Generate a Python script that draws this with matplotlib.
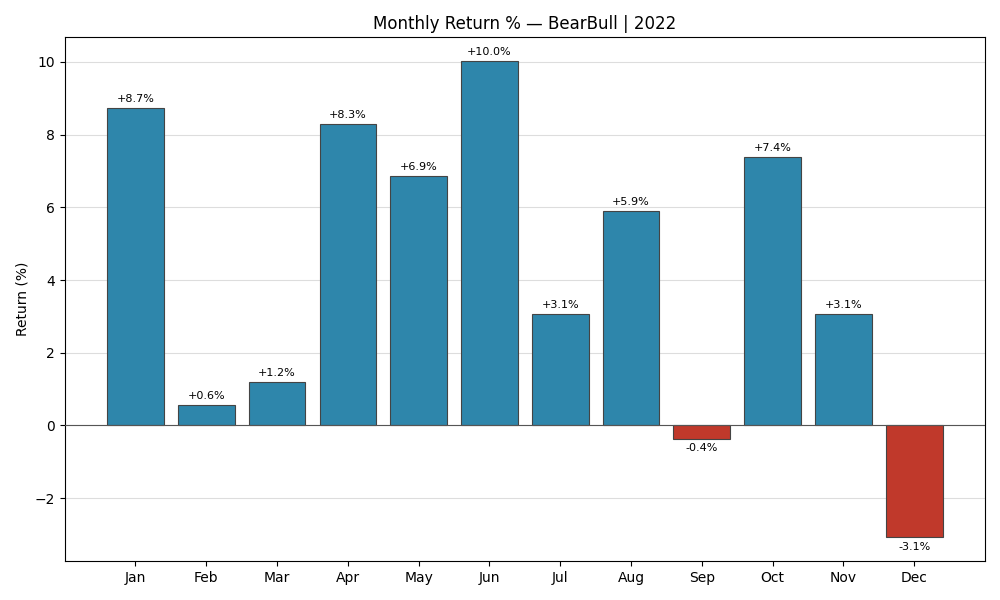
import numpy as np
import matplotlib
matplotlib.use("Agg")
from matplotlib import pyplot as plt

months = ["Jan", "Feb", "Mar", "Apr", "May", "Jun",
          "Jul", "Aug", "Sep", "Oct", "Nov", "Dec"]
returns = [8.73, 0.56, 1.19, 8.29, 6.86, 10.02,
           3.06, 5.90, -0.38, 7.38, 3.06, -3.08]

POS_COLOR = "#2E86AB"
NEG_COLOR = "#C0392B"


fig, ax = plt.subplots(figsize=(10, 6), dpi=100)

x = np.arange(len(months))
colors = [POS_COLOR if r >= 0 else NEG_COLOR for r in returns]
ax.bar(x, returns, width=0.8, color=colors, edgecolor="#444444", linewidth=0.8, zorder=2)
ax.axhline(0, color="#555555", linewidth=0.8, zorder=3)

for xi, r in zip(x, returns):
    if r >= 0:
        ax.annotate(f"+{r:.1f}%", (xi, r), xytext=(0, 3), textcoords="offset points",
                    ha="center", va="bottom", fontsize=8)
    else:
        ax.annotate(f"{r:.1f}%", (xi, r), xytext=(0, -3), textcoords="offset points",
                    ha="center", va="top", fontsize=8)

ax.set_xticks(x)
ax.set_xticklabels(months)
ax.set_xlim(-1, 12)
ax.set_ylabel("Return (%)")
ax.set_title("Monthly Return % — BearBull | 2022")
ax.grid(axis="y", color="#dddddd", linewidth=0.8, zorder=0)
ax.set_axisbelow(True)

fig.tight_layout()
fig.savefig("out.png")
